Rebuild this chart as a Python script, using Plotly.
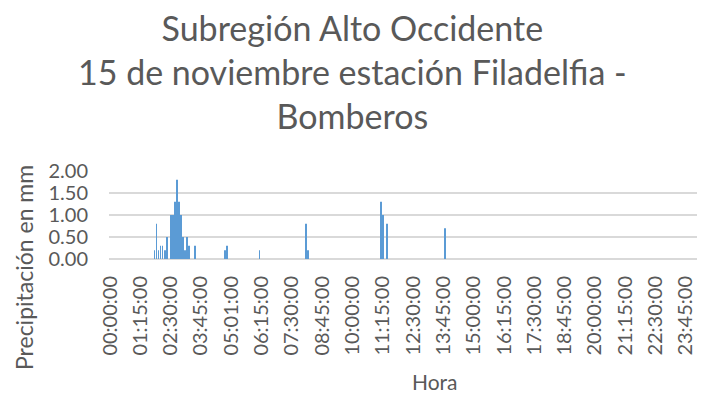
import plotly.graph_objects as go

# Category axis: 291 time slots, labelled every 15 slots
n_slots = 291
tick_idx = [0, 15, 30, 45, 60, 75, 90, 105, 120, 135, 150, 165, 180, 195, 210, 225, 240, 255, 270, 285]
tick_labels = ["00:00:00", "01:15:00", "02:30:00", "03:45:00", "05:01:00", "06:15:00",
               "07:30:00", "08:45:00", "10:00:00", "11:15:00", "12:30:00", "13:45:00",
               "15:00:00", "16:15:00", "17:30:00", "18:45:00", "20:00:00", "21:15:00",
               "22:30:00", "23:45:00"]

# Non-zero precipitation readings (slot index, mm)
rain_idx = [22, 23, 24, 25, 26, 27, 28, 30, 31, 32, 33, 34, 35, 36, 37, 38, 39, 42,
            57, 58, 74, 97, 98, 134, 135, 137, 166]
rain_mm = [0.2, 0.8, 0.2, 0.3, 0.3, 0.2, 0.5, 1.0, 1.0, 1.3, 1.8, 1.3, 1.0, 0.5, 0.2, 0.5, 0.3, 0.3,
           0.2, 0.3, 0.2, 0.8, 0.2, 1.3, 1.0, 0.8, 0.7]

title_lines = ["Subregión Alto Occidente", "15 de noviembre estación Filadelfia -", "Bomberos"]

FONT = "Lato"
TXT = "#595959"
GRID = "#D9D9D9"

# The page body has an 8px default margin: size the figure to fill the rest of the window
OFF = 8
W, H = 705 - OFF, 404 - OFF
L, T = 109 - OFF, 171 - OFF
R = 705 - 697
B = H - (259 - OFF)
PW, PH = W - L - R, H - T - B


def px_x(x):  # page pixel -> paper fraction
    return (x - OFF - L) / PW


def px_y(y):
    return (H - B - (y - OFF)) / PH


fig = go.Figure(go.Bar(x=rain_idx, y=rain_mm, marker=dict(color="#5B9BD5", line=dict(width=0))))

fig.update_layout(
    width=W, height=H,
    margin=dict(l=L, r=R, t=T, b=B, autoexpand=False),
    paper_bgcolor="white", plot_bgcolor="white",
    bargap=0.55,
    showlegend=False,
    font=dict(family=FONT, color=TXT),
    xaxis=dict(
        range=[-0.5, n_slots - 0.5], automargin=False,
        tickmode="array", tickvals=tick_idx, ticktext=tick_labels,
        tickangle=-90, tickfont=dict(size=20, color=TXT),
        showgrid=False, zeroline=False, showline=False, ticks="",
        ticklabelstandoff=12,
    ),
    yaxis=dict(
        range=[0, 2], automargin=False, tickmode="array", tickvals=[0, 0.5, 1, 1.5, 2],
        ticktext=["0.00", "0.50", "1.00", "1.50", "2.00"],
        tickfont=dict(size=20, color=TXT),
        showgrid=True, gridcolor=GRID, gridwidth=1.5,
        zeroline=True, zerolinecolor=GRID, zerolinewidth=1.5,
        showline=False, ticks="", ticklabelstandoff=20,
    ),
    annotations=[
        dict(text="<br>".join(title_lines), xref="paper", yref="paper",
             x=px_x(352.5), y=px_y(5), xanchor="center", yanchor="top", align="center",
             showarrow=False, font=dict(family=FONT, size=34, color=TXT)),
        dict(text="Precipitación en mm", xref="paper", yref="paper",
             x=px_x(24), y=px_y(268), xanchor="center", yanchor="middle", borderpad=0,
             textangle=-90, showarrow=False, font=dict(family=FONT, size=23, color=TXT)),
        dict(text="Hora", xref="paper", yref="paper",
             x=px_x(435), y=px_y(381), xanchor="center", yanchor="middle",
             showarrow=False, font=dict(family=FONT, size=21, color=TXT)),
    ],
)

fig.write_html("out.html")
